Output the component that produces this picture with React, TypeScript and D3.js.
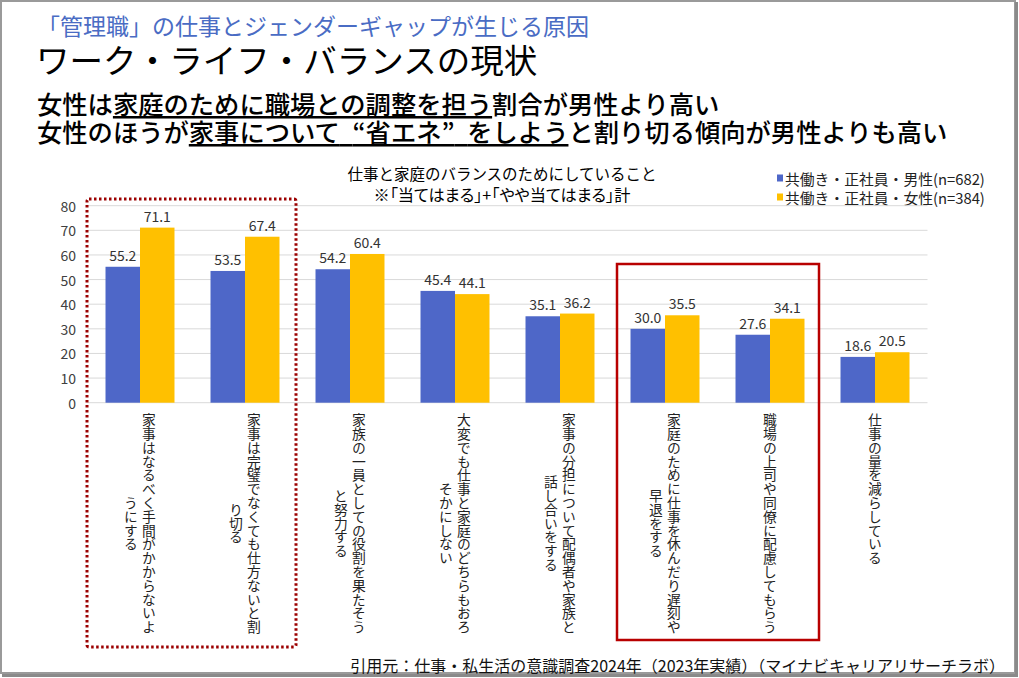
import React, { useEffect } from "react";
import * as d3 from "d3";

const categories: string[][] = [
  ["家事はなるべく手間がかからないよ", "うにする"],
  ["家事は完璧でなくても仕方ないと割", "り切る"],
  ["家族の一員としての役割を果たそう", "と努力する"],
  ["大変でも仕事と家庭のどちらもおろ", "そかにしない"],
  ["家事の分担について配偶者や家族と", "話し合いをする"],
  ["家庭のために仕事を休んだり遅刻や", "早退をする"],
  ["職場の上司や同僚に配慮してもらう"],
  ["仕事の量を減らしている"],
];
const maleValues = [55.2, 53.5, 54.2, 45.4, 35.1, 30.0, 27.6, 18.6];
const femaleValues = [71.1, 67.4, 60.4, 44.1, 36.2, 35.5, 34.1, 20.5];
const seriesNames = ["共働き・正社員・男性(n=682)", "共働き・正社員・女性(n=384)"];
const seriesColors = ["#4e67c8", "#ffc000"];
const yTicks = [0, 10, 20, 30, 40, 50, 60, 70, 80];

const FONT = "'Noto Sans CJK JP', 'Noto Sans', sans-serif";

export default function App() {
  useEffect(() => {
    document.body.style.margin = "0";
  }, []);

  const W = 1019;
  const H = 678;
  const x0 = d3
    .scaleBand<number>()
    .domain(d3.range(categories.length))
    .range([87.5, 927.5])
    .paddingInner(0.343)
    .paddingOuter(0.1715);
  const x1 = d3.scaleBand<number>().domain([0, 1]).range([0, x0.bandwidth()]);
  const y = d3.scaleLinear().domain([0, 80]).range([402.7, 205.7]);

  const step = 13.8;
  const labelTop = 413;

  const fmt = d3.format(".1f");
  const series = [maleValues, femaleValues];
  const palt = { fontFeatureSettings: '"palt"' } as React.CSSProperties;

  return (
    <svg
      width={W}
      height={H}
      style={{ position: "absolute", left: 0, top: 0, background: "#fff" }}
      fontFamily={FONT}
    >
      <rect x={0} y={0} width={W} height={H} fill="#fff" />
      {/* frame */}
      <rect x={1} y={1} width={1014} height={672} fill="none" stroke="#9a9a9a" strokeWidth={2} />
      <line x1={1016.5} y1={2} x2={1016.5} y2={676} stroke="#8a8a8a" strokeWidth={3} />
      <line x1={2} y1={675.5} x2={1018} y2={675.5} stroke="#8a8a8a" strokeWidth={3} />

      {/* titles */}
      <text x={37} y={25} dominantBaseline="central" fontSize={23} fill="#4a6cc4">
        「管理職」の仕事とジェンダーギャップが生じる原因
      </text>
      <text x={36} y={58} dominantBaseline="central" fontSize={33.5} fill="#000" fontWeight={400}>
        ワーク・ライフ・バランスの現状
      </text>
      <text x={37} y={103} dominantBaseline="central" fontSize={25.3} fill="#000" fontWeight={500}>
        女性は<tspan textDecoration="underline">家庭のために職場との調整を担う</tspan>割合が男性より高い
      </text>
      <text x={37} y={131} dominantBaseline="central" fontSize={25.3} fill="#000" fontWeight={500}>
        女性のほうが<tspan textDecoration="underline">家事について{"\u2002"}“省エネ”{"\u2002"}をしよう</tspan>と割り切る傾向が男性よりも高い
      </text>

      {/* chart title */}
      <text x={502} y={173} textAnchor="middle" dominantBaseline="central" fontSize={15.5} fill="#000">
        仕事と家庭のバランスのためにしていること
      </text>
      <text x={502} y={194} textAnchor="middle" dominantBaseline="central" fontSize={16.2} fill="#000" style={palt}>
        ※「当てはまる」+「やや当てはまる」計
      </text>

      {/* legend */}
      {seriesNames.map((n, i) => (
        <g key={n} transform={`translate(777, ${178 + i * 19})`}>
          <rect x={0} y={-3.5} width={6} height={7} fill={seriesColors[i]} />
          <text x={8} y={0} dominantBaseline="central" fontSize={14.8} fill="#222">
            {n}
          </text>
        </g>
      ))}

      {/* gridlines */}
      {yTicks.map((t) => (
        <g key={t}>
          <line x1={87.5} x2={927.5} y1={y(t)} y2={y(t)} stroke="#d9d9d9" strokeWidth={1} />
          <text x={76} y={y(t)} textAnchor="end" dominantBaseline="central" fontSize={14} fill="#404040">
            {t}
          </text>
        </g>
      ))}

      {/* bars */}
      {categories.map((_, i) => (
        <g key={i} transform={`translate(${x0(i)},0)`}>
          {series.map((vals, s) => (
            <g key={s}>
              <rect
                x={x1(s)}
                y={y(vals[i])}
                width={x1.bandwidth()}
                height={y(0) - y(vals[i])}
                fill={seriesColors[s]}
              />
              <text
                x={(x1(s) as number) + x1.bandwidth() / 2}
                y={y(vals[i]) - 6}
                textAnchor="middle"
                fontSize={14}
                fill="#333"
              >
                {fmt(vals[i])}
              </text>
            </g>
          ))}
        </g>
      ))}

      {/* category labels (vertical) */}
      {categories.map((cols, i) => {
        const cx = (x0(i) as number) + x0.bandwidth() / 2;
        const maxLen = d3.max(cols, (c) => c.length) as number;
        const n = cols.length;
        const midY = labelTop + (maxLen * step) / 2;
        return (
          <g key={i}>
            {cols.map((col, c) => {
              const colX = n === 1 ? cx : cx + (c === 0 ? 9 : -9);
              return (
                <text
                  key={c}
                  x={colX}
                  y={midY}
                  textAnchor="middle"
                  fontSize={step}
                  fill="#222"
                  style={{ writingMode: "vertical-rl", textOrientation: "upright" } as React.CSSProperties}
                >
                  {col}
                </text>
              );
            })}
          </g>
        );
      })}

      {/* highlight boxes */}
      <rect
        x={87}
        y={199}
        width={209}
        height={448}
        rx={2}
        fill="none"
        stroke="#9b0000"
        strokeWidth={3}
        strokeDasharray="2.5 2.5"
      />
      <rect x={617} y={264} width={202} height={376} fill="none" stroke="#b80000" strokeWidth={2.5} />

      {/* source */}
      <text x={1005} y={665} textAnchor="end" dominantBaseline="central" fontSize={16} fill="#111">
        引用元：仕事・私生活の意識調査2024年（2023年実績）（マイナビキャリアリサーチラボ）
      </text>
    </svg>
  );
}
